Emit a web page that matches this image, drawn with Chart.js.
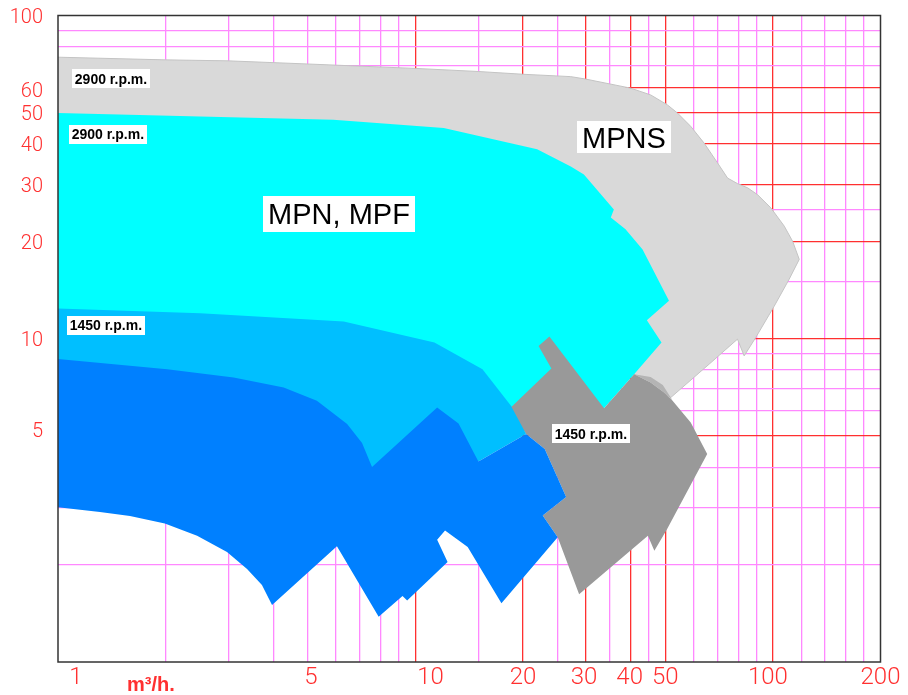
<!DOCTYPE html>
<html>
<head>
<meta charset="utf-8">
<script src="https://cdn.jsdelivr.net/npm/chart.js@4/dist/chart.umd.min.js"></script>
<style>
  html, body { margin: 0; padding: 0; background: #fff; }
  #wrap { width: 908px; height: 695px; }
</style>
</head>
<body>
<div id="wrap"><canvas id="c" width="908" height="695"></canvas></div>
<script>
// ---- Axis ranges and grid --------------------------------------------------
const flowMin = 1, flowMax = 200;   // m³/h
const headMin = 1, headMax = 100;   // m
const flowGrid = [2, 3, 4, 5, 6, 7, 8, 9, 10, 15, 20, 25, 30, 35, 40, 45, 50, 60, 70, 80, 90, 100, 120, 140, 160, 180];
const flowGridMajor = [10, 20, 30, 40, 50, 100];
const headGrid = [2, 3, 4, 5, 6, 7, 8, 9, 10, 15, 20, 25, 30, 40, 50, 60, 70, 80, 90];
const headGridMajor = [5, 10, 20, 30, 40, 50, 60];
const flowTickValues = [1, 5, 10, 20, 30, 40, 50, 100, 200];
const headTickValues = [5, 10, 20, 30, 40, 50, 60, 100];

// ---- Operating fields: outline as flow (m³/h) / head (m) ------------------
// MPNS, 2900 r.p.m.
const mpns2900Flow = [1, 2.00, 2.99, 4.98, 10.0, 15.0, 20.0, 27.2, 29.9, 40.0, 45.5, 50.7, 54.1, 58.9, 64.2, 70.0, 74.7, 79.6, 85.0, 90.6, 98.7, 107.6, 113.6, 118.5, 111.1, 100.8, 89.6, 83.1, 79.6, 67.1, 51.8, 40.9, 30.9, 1];
const mpns2900Head = [74.3, 72.9, 72.4, 70.8, 68.6, 67.1, 65.8, 64.7, 63.6, 59.6, 56.8, 52.9, 49.9, 45.4, 40.3, 35.0, 31.4, 30.2, 29.3, 27.9, 25.4, 22.3, 20.0, 17.6, 15.3, 12.6, 10.1, 8.85, 9.97, 8.44, 6.58, 7.77, 7.50, 18.9];
// strip where the two MPNS fields meet
const mpnsSeamFlow = [40.9, 45.5, 49.2, 51.8, 52.4, 49.6, 45.5, 40.9];
const mpnsSeamHead = [7.77, 7.61, 7.19, 6.58, 6.43, 6.82, 7.32, 7.77];
// MPN, MPF, 2900 r.p.m.
const mpn2900Flow = [1, 2.50, 5.89, 12.0, 21.9, 27.2, 29.6, 35.9, 35.2, 38.7, 43.2, 51.2, 44.4, 48.8, 40.9, 33.7, 28.1, 21.0, 17.3, 1];
const mpn2900Head = [49.9, 48.7, 47.6, 44.9, 38.6, 34.1, 32.2, 25.1, 23.7, 21.8, 18.9, 13.1, 11.4, 9.73, 7.77, 6.09, 6.51, 5.45, 5.64, 9.97];
// MPNS, 1450 r.p.m.
const mpns1450Flow = [23.7, 33.7, 40.9, 45.5, 49.6, 52.4, 58.9, 65.5, 50.6, 46.6, 44.7, 28.7, 25.0, 22.7, 26.4, 23.0, 20.4, 18.2, 18.7, 24.0, 22.1];
const mpns1450Head = [10.16, 6.09, 7.77, 7.32, 6.82, 6.43, 5.51, 4.40, 2.58, 2.21, 2.46, 1.62, 2.43, 2.84, 3.24, 4.56, 5.07, 6.06, 6.20, 8.09, 9.50];
// MPN, 1450 r.p.m.
const mpn1450Flow = [1, 2.50, 6.30, 11.3, 15.4, 18.5, 20.4, 15.0, 7.53, 1];
const mpn1450Head = [12.4, 12.0, 11.3, 9.73, 8.05, 6.20, 5.07, 4.17, 3.96, 5.64];
// MPF, 1450 r.p.m.
const mpf1450Flow = [1, 2.02, 3.10, 4.28, 5.30, 6.44, 7.09, 7.56, 11.5, 13.2, 15.0, 20.4, 23.0, 26.4, 22.7, 25.0, 17.4, 14.0, 12.1, 11.5, 12.3, 9.48, 9.20, 7.89, 6.03, 3.97, 3.72, 3.38, 2.97, 2.45, 1.99, 1.59, 1.31, 1];
const mpf1450Head = [8.65, 8.05, 7.59, 7.07, 6.43, 5.45, 4.76, 4.01, 6.13, 5.47, 4.17, 5.07, 4.56, 3.24, 2.84, 2.43, 1.52, 2.27, 2.55, 2.39, 2.04, 1.55, 1.60, 1.38, 2.28, 1.50, 1.73, 1.94, 2.19, 2.46, 2.68, 2.83, 2.91, 3.01];

// ---- Field captions ------------------------------------------------------
const captionTexts = ['2900 r.p.m.', '2900 r.p.m.', '1450 r.p.m.', '1450 r.p.m.', 'MPN, MPF', 'MPNS'];
const captionFlow = [1.407, 1.379, 1.361, 30.97, 6.11, 38.3];
const captionHead = [63.8, 42.9, 11.0, 5.08, 24.4, 42.0];

const RED = '#ff3030';
const PINK = '#ff88ff';
const TICK_FONT = '"Roboto", "Liberation Sans", Arial, sans-serif';

function outline(flow, head) {
  return flow.map((q, i) => ({ x: q, y: head[i] }));
}

function field(flow, head, color, order, border) {
  return {
    data: outline(flow, head),
    showLine: true,
    fill: 'shape',
    backgroundColor: color,
    borderColor: border || color,
    borderWidth: border ? 1 : 0,
    pointRadius: 0,
    tension: 0,
    order: order
  };
}

const frame = {
  id: 'frame',
  afterDatasetsDraw(chart) {
    const { ctx, chartArea: a } = chart;
    ctx.save();
    ctx.strokeStyle = '#333';
    ctx.lineWidth = 1.5;
    ctx.strokeRect(a.left, a.top, a.right - a.left, a.bottom - a.top);
    ctx.restore();
  }
};

const axisText = {
  id: 'axisText',
  afterDraw(chart) {
    const { ctx, chartArea: a } = chart;
    const xs = chart.scales.x, ys = chart.scales.y;
    const xShift = { 1: 18, 5: 3, 10: 15, 30: -2, 40: -1, 100: -5 };
    const yShift = { 60: 2.6, 5: -6.5 };
    ctx.save();
    ctx.fillStyle = RED;
    ctx.font = '300 24px ' + TICK_FONT;
    ctx.textAlign = 'center';
    ctx.textBaseline = 'alphabetic';
    flowTickValues.forEach(v => {
      ctx.fillText(String(v), xs.getPixelForValue(v) + (xShift[v] || 0), a.bottom + 21.5);
    });
    ctx.font = '300 20px ' + TICK_FONT;
    ctx.textAlign = 'right';
    headTickValues.forEach(v => {
      ctx.fillText(String(v), a.left - 15, ys.getPixelForValue(v) + (yShift[v] || 0) + 7.2);
    });
    ctx.font = 'bold 20px "Liberation Sans", Arial, sans-serif';
    ctx.textAlign = 'left';
    ctx.fillText('m³/h.', a.left + 69, a.bottom + 29);
    ctx.restore();
  }
};

const captions = {
  id: 'captions',
  afterDraw(chart) {
    const { ctx } = chart;
    const xs = chart.scales.x, ys = chart.scales.y;
    ctx.save();
    captionTexts.forEach((t, i) => {
      const big = t.startsWith('MP');
      const size = big ? 29 : 14;
      ctx.font = (big ? '' : 'bold ') + size + 'px "Liberation Sans", Arial, sans-serif';
      const w = ctx.measureText(t).width;
      const padX = big ? 5 : 3;
      const h = big ? (t === 'MPNS' ? 32 : 36) : 19;
      const cx = xs.getPixelForValue(captionFlow[i]);
      const cy = ys.getPixelForValue(captionHead[i]);
      ctx.fillStyle = '#fff';
      ctx.fillRect(Math.round(cx - w / 2 - padX), Math.round(cy - h / 2), Math.round(w + 2 * padX), h);
      ctx.fillStyle = '#000';
      ctx.textAlign = 'center';
      ctx.textBaseline = 'alphabetic';
      ctx.fillText(t, cx, cy + size * 0.36);
    });
    ctx.restore();
  }
};

new Chart(document.getElementById('c'), {
  type: 'scatter',
  data: {
    datasets: [
      field(mpf1450Flow, mpf1450Head, '#0080ff', 1),
      field(mpn1450Flow, mpn1450Head, '#00bfff', 2),
      field(mpnsSeamFlow, mpnsSeamHead, '#b4b4b4', 3),
      field(mpns1450Flow, mpns1450Head, '#999999', 4),
      field(mpn2900Flow, mpn2900Head, '#00ffff', 5),
      field(mpns2900Flow, mpns2900Head, '#d9d9d9', 6, '#c4c4c4')
    ]
  },
  options: {
    responsive: false,
    devicePixelRatio: 1,
    animation: false,
    events: [],
    layout: { padding: { left: 0, top: 15.5, right: 27.5, bottom: 0 } },
    plugins: { legend: { display: false }, tooltip: { enabled: false }, title: { display: false } },
    scales: {
      x: {
        type: 'logarithmic',
        min: flowMin,
        max: flowMax,
        afterBuildTicks: s => { s.ticks = flowGrid.map(v => ({ value: v })); },
        afterFit: s => { s.height = 33; },
        ticks: { display: false },
        border: { display: false },
        grid: {
          drawTicks: false,
          lineWidth: 1.3,
          color: c => (c.tick && flowGridMajor.includes(c.tick.value)) ? RED : PINK
        }
      },
      y: {
        type: 'logarithmic',
        min: headMin,
        max: headMax,
        afterBuildTicks: s => { s.ticks = headGrid.map(v => ({ value: v })); },
        afterFit: s => { s.width = 58; },
        ticks: { display: false },
        border: { display: false },
        grid: {
          drawTicks: false,
          lineWidth: 1.3,
          color: c => (c.tick && headGridMajor.includes(c.tick.value)) ? RED : PINK
        }
      }
    }
  },
  plugins: [frame, axisText, captions]
});
</script>
</body>
</html>
